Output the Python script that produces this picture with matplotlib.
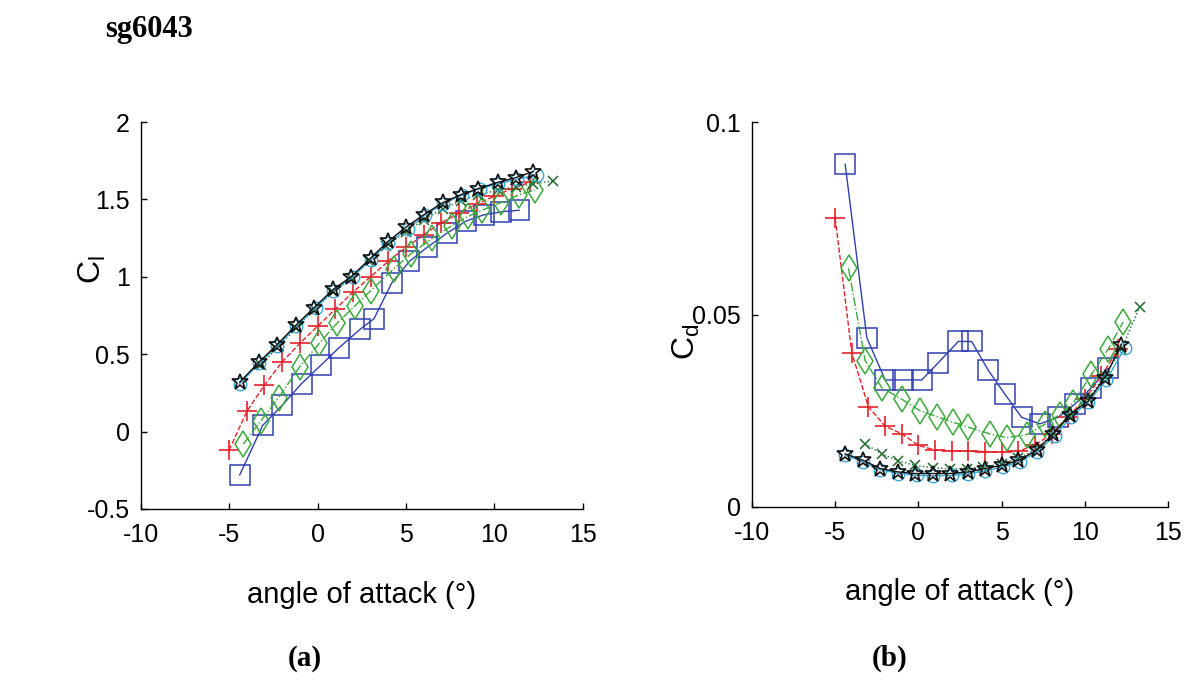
import numpy as np
import matplotlib
matplotlib.use("Agg")
import matplotlib.pyplot as plt

plt.rcParams['font.family'] = ['Liberation Sans', 'DejaVu Sans']
plt.rcParams['mathtext.fontset'] = 'custom'
plt.rcParams['mathtext.rm'] = 'Liberation Sans'
plt.rcParams['mathtext.it'] = 'Liberation Sans'

# 數據 (angle of attack in degrees)
alpha_blue = [-4.4, -3.1, -2.0, -0.9, 0.2, 1.2, 2.4, 3.2, 4.2, 5.2, 6.2, 7.3, 8.4, 9.4, 10.4, 11.4]
cl_blue = [-0.28, 0.04, 0.17, 0.31, 0.43, 0.54, 0.66, 0.73, 0.96, 1.10, 1.19, 1.28, 1.36, 1.40, 1.42, 1.43]
cd_blue = [0.089, 0.044, 0.033, 0.033, 0.033, 0.0375, 0.043, 0.043, 0.0355, 0.0293, 0.0233, 0.0216,
           0.0233, 0.0267, 0.031, 0.036]

alpha_red = [-5, -4, -3, -2, -1, 0, 1, 2, 3, 4, 5, 6, 7, 8, 9, 10, 11, 12]
cl_red = [-0.12, 0.13, 0.30, 0.45, 0.57, 0.68, 0.79, 0.90, 1.00, 1.10, 1.19, 1.27, 1.35, 1.41, 1.47,
          1.52, 1.57, 1.61]
cd_red = [0.075, 0.040, 0.026, 0.021, 0.019, 0.016, 0.0148, 0.0146, 0.0145, 0.0144, 0.0143, 0.0145,
          0.016, 0.019, 0.0235, 0.028, 0.034, 0.041]

alpha_green = [-4.2, -3.2, -2.2, -1.0, 0.1, 1.1, 2.1, 3.0, 4.3, 5.3, 6.5, 7.6, 8.5, 9.3, 10.4, 11.4, 12.3]
cl_green = [-0.08, 0.07, 0.22, 0.42, 0.57, 0.70, 0.81, 0.91, 1.05, 1.15, 1.25, 1.33, 1.39, 1.43, 1.48,
            1.53, 1.56]
cd_green = [0.062, 0.038, 0.031, 0.028, 0.025, 0.0235, 0.022, 0.0207, 0.019, 0.018, 0.0188, 0.0215,
            0.024, 0.027, 0.0345, 0.041, 0.048]

alpha_x = [-3.2, -2.2, -1.2, -0.2, 0.9, 1.9, 2.9, 3.9, 5.0, 6.0, 7.1, 8.1, 9.1, 10.2, 11.2, 12.2, 13.3]
cl_x = [0.43, 0.55, 0.67, 0.79, 0.90, 0.99, 1.10, 1.20, 1.29, 1.37, 1.44, 1.49, 1.53, 1.56, 1.58, 1.60, 1.62]
cd_x = [0.0164, 0.0138, 0.0120, 0.0108, 0.0102, 0.0099, 0.0100, 0.0104, 0.0112, 0.0126, 0.0150, 0.0190,
        0.0237, 0.0282, 0.0340, 0.0410, 0.0520]

alpha_cyan = [-4.4, -3.3, -2.3, -1.2, -0.1, 0.9, 2.0, 3.0, 4.0, 5.1, 6.1, 7.1, 8.2, 9.2, 10.2, 11.3, 12.4]
cl_cyan = [0.31, 0.44, 0.55, 0.68, 0.80, 0.91, 1.00, 1.11, 1.22, 1.31, 1.40, 1.47, 1.53, 1.57, 1.60, 1.63, 1.66]
cd_cyan = [0.0135, 0.0117, 0.0097, 0.0087, 0.0082, 0.0081, 0.0082, 0.0086, 0.0094, 0.0104, 0.0118, 0.0143,
           0.0185, 0.0235, 0.0272, 0.0330, 0.0413]

alpha_black = [-4.4, -3.3, -2.3, -1.2, -0.2, 0.9, 1.9, 3.0, 4.0, 5.0, 6.0, 7.1, 8.1, 9.1, 10.2, 11.2, 12.2]
cl_black = [0.32, 0.45, 0.56, 0.69, 0.80, 0.92, 1.00, 1.12, 1.23, 1.32, 1.40, 1.48, 1.53, 1.57, 1.61, 1.64, 1.68]
cd_black = [0.0138, 0.0121, 0.0100, 0.0091, 0.0087, 0.0087, 0.0087, 0.0091, 0.0100, 0.0108, 0.0121, 0.0147,
            0.0190, 0.0240, 0.0275, 0.0336, 0.0422]

x_ticks = [-10, -5, 0, 5, 10, 15]
cl_ticks = [-0.5, 0, 0.5, 1, 1.5, 2]
cl_tick_labels = ['-0.5', '0', '0.5', '1', '1.5', '2']
cd_ticks = [0, 0.05, 0.1]
cd_tick_labels = ['0', '0.05', '0.1']

W, H = 1192, 683
fig = plt.figure(figsize=(W / 100, H / 100), dpi=100)
ax1 = fig.add_axes([140.7 / W, 1 - 509 / H, (582.7 - 140.7) / W, (509 - 122) / H])
ax2 = fig.add_axes([752 / W, 1 - 507 / H, (1168 - 752) / W, (507 - 122) / H])

# 每條曲線的樣式
styles = [
    dict(color='#3040b0', marker='s', ms=14, ls='-', mfc='none', mew=1.1, lw=1.0),
    dict(color='#e8202a', marker='+', ms=14, ls='--', mew=1.2, lw=1.0),
    dict(color='#3aa83a', marker='d', ms=13, ls='-.', mfc='none', mew=1.1, lw=1.0),
    dict(color='#1e6a2c', marker='x', ms=7, ls=':', mew=1.1, lw=1.0),
    dict(color='#38a8d8', marker='o', ms=9, ls='-', mfc='none', mew=1.0, lw=1.0),
    dict(color='#111111', marker='*', ms=12, ls='-', mfc='none', mew=1.2, lw=1.0),
]

cl_series = [(alpha_blue, cl_blue), (alpha_red, cl_red), (alpha_green, cl_green),
             (alpha_x, cl_x), (alpha_cyan, cl_cyan), (alpha_black, cl_black)]
cd_series = [(alpha_blue, cd_blue), (alpha_red, cd_red), (alpha_green, cd_green),
             (alpha_x, cd_x), (alpha_cyan, cd_cyan), (alpha_black, cd_black)]

for (a, v), st in zip(cl_series, styles):
    ax1.plot(a, v, **st)
for (a, v), st in zip(cd_series, styles):
    ax2.plot(a, v, **st)

for ax in (ax1, ax2):
    ax.set_xlim(-10, 15)
    ax.set_xticks(x_ticks)
    ax.set_xticklabels([str(t) for t in x_ticks])
    for s in ('top', 'right'):
        ax.spines[s].set_visible(False)
    ax.spines['left'].set_linewidth(1.0)
    ax.spines['bottom'].set_linewidth(1.0)
    ax.tick_params(direction='in', length=4, width=1.0, labelsize=18)
    ax.tick_params(axis='x', pad=10)
    ax.tick_params(axis='y', pad=8)
    ax.set_xlabel('angle of attack (°)', fontsize=21)
    ax.xaxis.set_label_coords(0.5, -0.185)

ax1.set_ylim(-0.5, 2)
ax1.set_yticks(cl_ticks)
ax1.set_yticklabels(cl_tick_labels)
ax1.set_ylabel(r'$\mathrm{C}_\mathrm{l}$', fontsize=23)
ax1.yaxis.set_label_coords(-0.075, 0.62)

ax2.set_ylim(0, 0.1)
ax2.set_yticks(cd_ticks)
ax2.set_yticklabels(cd_tick_labels)
ax2.set_ylabel(r'$\mathrm{C}_\mathrm{d}$', fontsize=23)
ax2.yaxis.set_label_coords(-0.12, 0.43)

serif = ['Liberation Serif', 'DejaVu Serif']
fig.text(105 / W, 1 - 29 / H, 'sg6043', family=serif, fontweight='bold', fontsize=22, va='center', ha='left')
fig.text(305 / W, 1 - 658 / H, '(a)', family=serif, fontweight='bold', fontsize=21, va='center', ha='center')
fig.text(890 / W, 1 - 658 / H, '(b)', family=serif, fontweight='bold', fontsize=21, va='center', ha='center')

fig.savefig('out.png', dpi=100)
